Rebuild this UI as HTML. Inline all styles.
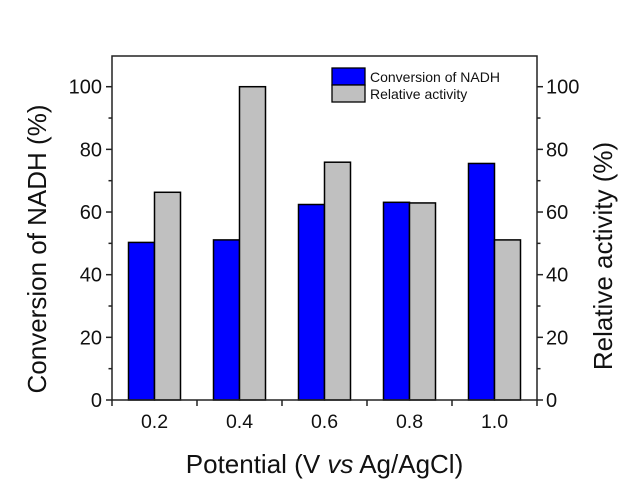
<!DOCTYPE html>
<html><head><meta charset="utf-8"><style>
body{margin:0;background:#fff}
svg text{font-family:"Liberation Sans",Arial,sans-serif;fill:#111}
</style></head><body>
<svg id="c" width="624" height="480"></svg>
<script>
const categories=["0.2","0.4","0.6","0.8","1.0"];
const conversion=[50.3,51.1,62.4,63.1,75.5];
const relative=[66.3,100,75.9,62.9,51.1];
const yTicks=[0,20,40,60,80,100];
const NS="http://www.w3.org/2000/svg";
const svg=document.getElementById('c');
const L=112,R=537,T=56,B=400,YMAX=109.8;
const y=v=>B-v*(B-T)/YMAX;
const step=(R-L)/categories.length;
const xc=i=>L+step*(i+0.5);
const BW=26;
function mk(tag,a,parent){const e=document.createElementNS(NS,tag);for(const k in a)e.setAttribute(k,a[k]);(parent||svg).appendChild(e);return e;}
function txt(s,a){const e=mk('text',a);e.textContent=s;return e;}
categories.forEach((c,i)=>{
 let b=mk('rect',{x:xc(i)-BW,y:y(conversion[i]),width:BW,height:B-y(conversion[i]),fill:'#0000ff',stroke:'#000','stroke-width':1.5});
 
 
 let g=mk('rect',{x:xc(i),y:y(relative[i]),width:BW,height:B-y(relative[i]),fill:'#c0c0c0',stroke:'#000','stroke-width':1.5});
 
 
 let t=txt(c,{x:xc(i),y:428,'font-size':19.5,'text-anchor':'middle'});
 
 
});
let fr=mk('rect',{x:L,y:T,width:R-L,height:B-T,fill:'none',stroke:'#222','stroke-width':1.5});


for(let i=0;i<=categories.length;i++){mk('line',{x1:L+step*i,x2:L+step*i,y1:B,y2:B+6,stroke:'#222','stroke-width':1.5});}
for(let v=0;v<=100;v+=10){const maj=v%20===0;const len=maj?6:3.5;
 mk('line',{x1:L-len,x2:L,y1:y(v),y2:y(v),stroke:'#222','stroke-width':1.5});
 mk('line',{x1:R,x2:R+len,y1:y(v),y2:y(v),stroke:'#222','stroke-width':1.5});}
yTicks.forEach(v=>{
 let a=txt(v,{x:L-10,y:y(v)+7,'font-size':20,'text-anchor':'end'});
 
 
 let b=txt(v,{x:R+9,y:y(v)+7,'font-size':20,'text-anchor':'start'});
 
 
});
let yl=txt('Conversion of NADH (%)',{x:0,y:0,'font-size':26,'text-anchor':'middle',transform:`translate(46,249) rotate(-90)`});


let yr=txt('Relative activity (%)',{x:0,y:0,'font-size':26,'text-anchor':'middle',transform:`translate(612,256) rotate(-90)`});


let xt=mk('text',{x:(L+R)/2,y:473,'font-size':26,'text-anchor':'middle'});
xt.innerHTML='Potential (V <tspan font-style="italic">vs</tspan> Ag/AgCl)';


let lg=mk('g',{});


mk('rect',{x:332,y:68,width:33,height:17,fill:'#0000ff',stroke:'#000','stroke-width':1.3},lg);
mk('rect',{x:332,y:85,width:33,height:17,fill:'#c0c0c0',stroke:'#000','stroke-width':1.3},lg);
let l1=txt('Conversion of NADH',{x:370,y:82,'font-size':14});


let l2=txt('Relative activity',{x:370,y:99,'font-size':14});


</script>
</body></html>
